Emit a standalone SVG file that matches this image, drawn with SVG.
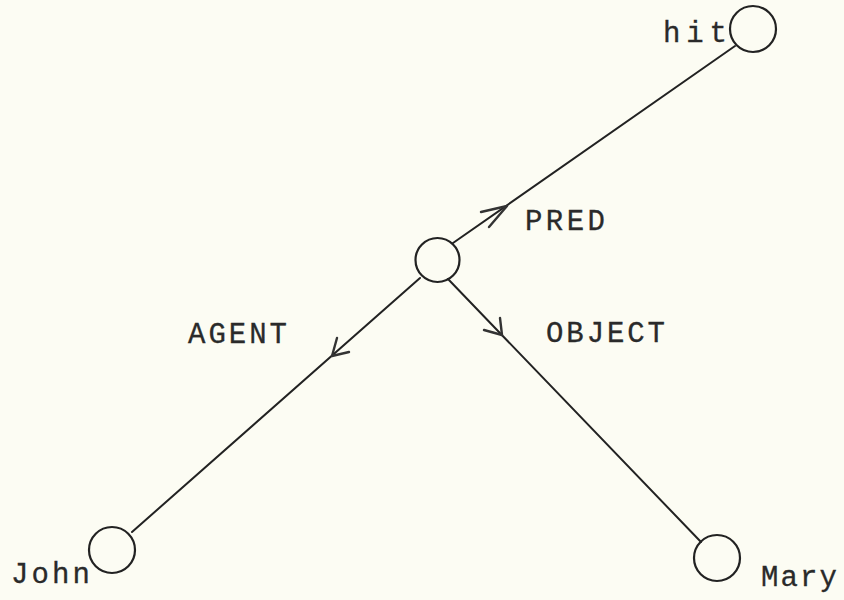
<svg xmlns="http://www.w3.org/2000/svg" width="844" height="600" viewBox="0 0 844 600">
  <style>
    .node { fill: none; stroke: #222; stroke-width: 2.2; }
    .edge { fill: none; stroke: #222; stroke-width: 2; stroke-linecap: round; }
    .head { fill: none; stroke: #333; stroke-width: 2.4; stroke-linecap: round; stroke-linejoin: round; }
    .lbl { font-family: "Liberation Mono", "DejaVu Sans Mono", monospace; font-size: 29px; fill: #2a2a2a; stroke: #2a2a2a; stroke-width: 0.3; }
  </style>
  <rect width="844" height="600" fill="#fcfcf3"/>
  <g id="connectors">
    <line class="edge" x1="453" y1="243" x2="735" y2="46"/>
    <line class="edge" x1="420" y1="278" x2="132" y2="532"/>
    <line class="edge" x1="448" y1="279" x2="701" y2="542"/>
    <polyline class="head" points="481,212 507,206 489,227"/>
    <polyline class="head" points="337,338 332,356 349,352"/>
    <polyline class="head" points="484,330 502,335 500,318"/>
  </g>
  <g id="node-pred">
    <circle class="node" cx="437.5" cy="260" r="22"/>
  </g>
  <g id="node-hit">
    <circle class="node" cx="753" cy="29" r="23"/>
    <text class="lbl" x="663" y="42" textLength="64" lengthAdjust="spacing">hit</text>
  </g>
  <g id="node-john">
    <circle class="node" cx="112" cy="550" r="23"/>
    <text class="lbl" x="11" y="583" textLength="79" lengthAdjust="spacing">John</text>
  </g>
  <g id="node-mary">
    <circle class="node" cx="717" cy="558" r="23"/>
    <text class="lbl" x="761" y="586" textLength="76" lengthAdjust="spacing">Mary</text>
  </g>
  <g id="labels">
    <text class="lbl" x="525" y="230" textLength="80" lengthAdjust="spacing">PRED</text>
    <text class="lbl" x="188" y="343" textLength="99" lengthAdjust="spacing">AGENT</text>
    <text class="lbl" x="546" y="342" textLength="119" lengthAdjust="spacing">OBJECT</text>
  </g>
</svg>
